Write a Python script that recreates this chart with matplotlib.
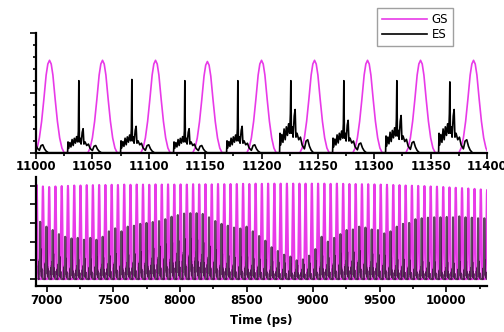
import matplotlib.pyplot as plt
from matplotlib.lines import Line2D
from matplotlib.ticker import MultipleLocator, NullFormatter

GS_COLOR = '#e83ae8'
ES_COLOR = 'black'

# GS pulse profile: offset from the peak (ps), level relative to the peak
gs_offsets = [-13, -11, -9, -7, -5, -3, -1.5, 0, 1.5, 3, 5, 7, 9, 11, 13]
gs_shape = [0, 0.05, 0.16, 0.34, 0.58, 0.84, 0.96, 1.0, 0.96, 0.84, 0.58, 0.34, 0.16, 0.05, 0]

# ES burst profile: offset from the main spike (ps), side-lobe level (main spike at 0)
es_offsets = [-11, -10, -9.6, -9, -8, -7, -6, -5, -4, -3, -2, -1, -0.4, 0,
              0.5, 1.2, 2, 3, 3.8, 4.5, 5.5, 7, 8.5, 10, 12, 13.5, 15, 16.5, 18, 20]
es_shape = [0, 0, 0.45, 0.18, 0.42, 0.24, 0.55, 0.3, 0.6, 0.4, 0.67, 0.45, 0.9, 0,
            0.45, 0.6, 0.36, 0.85, 1.0, 0.36, 0.45, 0.3, 0.36, 0.18, 0.09, 0.27, 0.3, 0.15, 0.06, 0]

# zoomed window 11000-11400 ps
top_gs_times = [11012, 11059, 11106, 11152, 11200, 11247, 11294, 11341, 11388]
top_gs_heights = [0.77, 0.77, 0.77, 0.76, 0.77, 0.77, 0.77, 0.77, 0.77]
top_es_times = [10991, 11038, 11085, 11132, 11179, 11226, 11273, 11320, 11367]
top_es_spikes = [0.6, 0.6, 0.61, 0.6, 0.6, 0.6, 0.6, 0.6, 0.59]
top_es_floor = [0.22, 0.2, 0.22, 0.2, 0.22, 0.36, 0.27, 0.31, 0.36]

# long window 6900-10300 ps
bottom_gs_times = [
    6925, 6972, 7019, 7066, 7113, 7160, 7207, 7254, 7301, 7347,
    7394, 7441, 7488, 7535, 7582, 7629, 7676, 7723, 7770, 7817,
    7864, 7911, 7958, 8005, 8052, 8099, 8145, 8192, 8239, 8286,
    8333, 8380, 8427, 8474, 8521, 8568, 8615, 8662, 8709, 8756,
    8803, 8850, 8897, 8943, 8990, 9037, 9084, 9131, 9178, 9225,
    9272, 9319, 9366, 9413, 9460, 9507, 9554, 9601, 9648, 9694,
    9741, 9788, 9835, 9882, 9929, 9976, 10023, 10070, 10117, 10164,
    10211, 10258, 10305]
bottom_gs_heights = [
    5.03, 4.95, 4.92, 4.95, 4.97, 4.98, 5.0, 5.0, 5.02, 5.02,
    5.03, 5.03, 5.04, 5.03, 5.05, 5.04, 5.05, 5.05, 5.04, 5.06,
    5.05, 5.06, 5.05, 5.06, 5.05, 5.07, 5.06, 5.07, 5.06, 5.08,
    5.07, 5.08, 5.08, 5.09, 5.08, 5.1, 5.09, 5.1, 5.1, 5.1,
    5.1, 5.1, 5.1, 5.1, 5.1, 5.1, 5.1, 5.09, 5.1, 5.09,
    5.08, 5.08, 5.07, 5.07, 5.06, 5.05, 5.04, 5.03, 5.02, 5.0,
    4.99, 4.98, 4.97, 4.95, 4.94, 4.92, 4.9, 4.88, 4.86, 4.84,
    4.82, 4.79, 4.76]
es_delay = 26.4
bottom_es_spikes = [
    3.06, 2.8, 2.62, 2.4, 2.26, 2.17, 2.2, 2.1, 2.2, 2.1,
    2.26, 2.55, 2.71, 2.55, 2.8, 2.85, 2.95, 3.0, 3.05, 3.1,
    3.2, 3.33, 3.42, 3.5, 3.52, 3.52, 3.48, 3.3, 3.1, 2.95,
    2.85, 2.75, 2.7, 2.8, 2.55, 2.3, 2.05, 1.7, 1.5, 1.3,
    1.2, 1.0, 1.05, 1.25, 1.6, 2.26, 2.0, 2.2, 2.4, 2.62,
    2.65, 2.8, 2.75, 2.65, 2.62, 2.44, 2.55, 2.8, 2.95, 3.0,
    3.2, 3.25, 3.28, 3.3, 3.3, 3.32, 3.3, 3.35, 3.3, 3.28,
    3.25, 3.25, 3.2]
bottom_es_floor = [
    1.6, 1.5, 1.35, 1.2, 1.1, 1.05, 1.05, 1.1, 1.05, 1.15,
    1.15, 1.25, 1.35, 1.25, 1.3, 1.35, 1.45, 1.55, 1.65, 1.75,
    1.85, 1.95, 2.05, 2.15, 2.15, 2.1, 1.95, 1.75, 1.55, 1.35,
    1.25, 1.15, 1.15, 1.2, 1.1, 1.05, 1.0, 0.95, 0.9, 0.85,
    0.8, 0.75, 0.8, 0.85, 0.95, 1.25, 1.15, 1.25, 1.35, 1.45,
    1.45, 1.5, 1.45, 1.35, 1.3, 1.25, 1.15, 1.05, 1.05, 1.0,
    0.95, 0.95, 0.9, 0.9, 0.85, 0.9, 0.85, 0.9, 0.95, 0.9,
    0.95, 1.0, 0.95]


def gs_train(times, heights):
    t, y = [], []
    for t0, h in zip(times, heights):
        t.extend(t0 + o for o in gs_offsets)
        y.extend(h * s for s in gs_shape)
    return t, y


def es_train(times, spikes, floors):
    t, y = [], []
    for t0, sp, fl in zip(times, spikes, floors):
        for o, s in zip(es_offsets, es_shape):
            t.append(t0 + o)
            y.append(sp if o == 0 else fl * s)
    return t, y


def style_axes(ax):
    for side in ('top', 'right'):
        ax.spines[side].set_visible(False)
    for side in ('left', 'bottom'):
        ax.spines[side].set_linewidth(1.6)
    ax.yaxis.set_major_formatter(NullFormatter())
    ax.yaxis.set_minor_formatter(NullFormatter())
    ax.tick_params(which='both', direction='out', width=1.2)
    ax.tick_params(which='major', length=4)
    ax.tick_params(which='minor', length=2.5)
    ax.tick_params(axis='x', pad=1.5, labelsize=8.5)
    for lab in ax.get_xticklabels():
        lab.set_fontweight('bold')


fig = plt.figure(figsize=(5.04, 3.32), dpi=100)

# Top: zoomed window
ax_top = fig.add_axes([0.0714, 0.540, 0.895, 0.3615])
t, y = gs_train(top_gs_times, top_gs_heights)
ax_top.plot(t, y, color=GS_COLOR, lw=1.2)
t, y = es_train(top_es_times, top_es_spikes, top_es_floor)
ax_top.plot(t, y, color=ES_COLOR, lw=1.2)
ax_top.set_xlim(11000, 11400)
ax_top.set_ylim(0, 1.0)
ax_top.xaxis.set_major_locator(MultipleLocator(50))
ax_top.xaxis.set_minor_locator(MultipleLocator(25))
ax_top.yaxis.set_major_locator(MultipleLocator(0.5))
ax_top.yaxis.set_minor_locator(MultipleLocator(0.1))
style_axes(ax_top)

# Bottom: long window
ax_bot = fig.add_axes([0.0714, 0.1386, 0.895, 0.328])
t, y = gs_train(bottom_gs_times, bottom_gs_heights)
ax_bot.plot(t, y, color=GS_COLOR, lw=1.5)
t, y = es_train([x + es_delay for x in bottom_gs_times], bottom_es_spikes, bottom_es_floor)
ax_bot.plot(t, y, color='#1a001a', lw=1.5, alpha=0.7)
ax_bot.set_xlim(6920, 10305)
ax_bot.set_ylim(-0.37, 5.45)
ax_bot.xaxis.set_major_locator(MultipleLocator(500))
ax_bot.xaxis.set_minor_locator(MultipleLocator(250))
ax_bot.yaxis.set_major_locator(MultipleLocator(1))
ax_bot.yaxis.set_minor_locator(MultipleLocator(1))
style_axes(ax_bot)
ax_bot.set_xlabel('Time (ps)', fontsize=8.5, fontweight='bold', labelpad=5)

legend_elements = [
    Line2D([0], [0], color=GS_COLOR, lw=1.2, label='GS'),
    Line2D([0], [0], color=ES_COLOR, lw=1.2, label='ES'),
]
leg = fig.legend(handles=legend_elements, loc='upper left', bbox_to_anchor=(0.749, 0.975),
                 fontsize=8.5, handlelength=3.8, fancybox=False, borderpad=0.4,
                 labelspacing=0.15, handletextpad=0.4, borderaxespad=0)
leg.get_frame().set_edgecolor('#888888')
leg.get_frame().set_linewidth(1.0)

plt.savefig('out.png', dpi=100)
plt.close()
